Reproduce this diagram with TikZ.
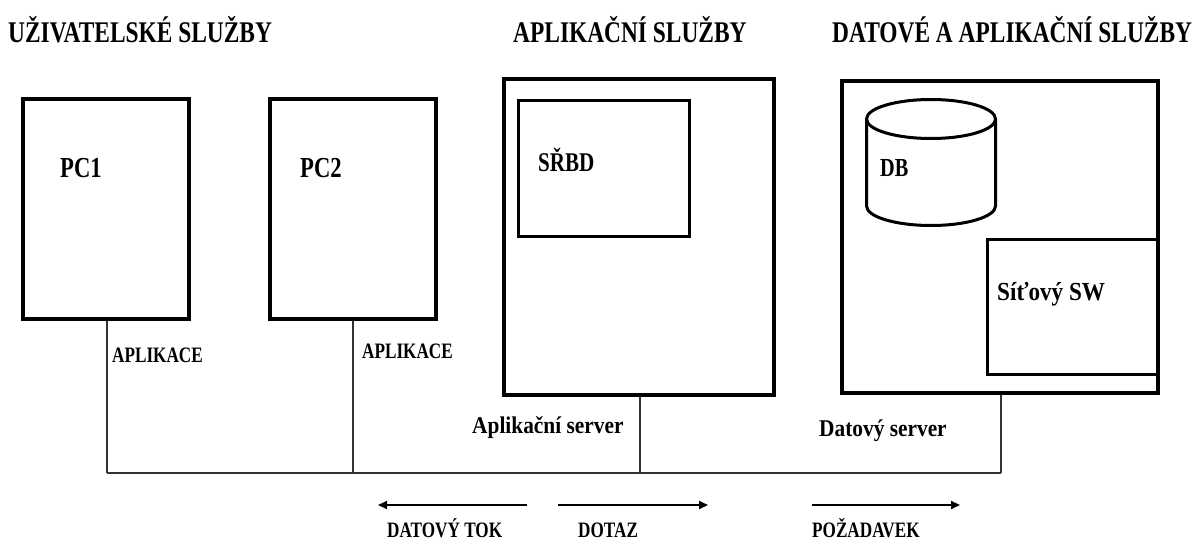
\documentclass[tikz,border=0pt]{standalone}
\usepackage{fontspec}
\setmainfont{Liberation Serif}[FakeStretch=0.78]
\newfontfamily\widefont{Liberation Serif}[FakeStretch=0.89]
\usetikzlibrary{arrows.meta}
\tikzset{
  txt/.style={anchor=base west, inner sep=0pt, font=\bfseries\fontsize{#1}{#1}\selectfont},
  wtxt/.style={anchor=base west, inner sep=0pt, font=\widefont\bfseries\fontsize{#1}{#1}\selectfont},
  bigbox/.style={draw, line width=4pt, rectangle, inner sep=0pt},
  subbox/.style={draw, line width=3pt, rectangle, inner sep=0pt},
  wire/.style={draw=black!80, line width=1.3pt},
  flow/.style={line width=2pt, -{Triangle[length=9pt,width=8pt]}}
}
\begin{document}
\begin{tikzpicture}[x=1pt,y=-1pt]
\useasboundingbox (0,0) rectangle (1199,540);
% headings
\node[txt=30] (h1) at (8,43) {UŽIVATELSKÉ SLUŽBY};
\node[txt=30] (h2) at (513,43) {APLIKAČNÍ SLUŽBY};
\node[txt=30] (h3) at (832,43) {DATOVÉ A APLIKAČNÍ SLUŽBY};
% boxes
\node[bigbox, minimum width=166pt, minimum height=220pt] (pc1) at (106,209) {};
\node[bigbox, minimum width=166pt, minimum height=220pt] (pc2) at (353,209) {};
\node[bigbox, minimum width=270pt, minimum height=316pt] (app) at (639,237) {};
\node[subbox, minimum width=171pt, minimum height=136pt] (srbd) at (604,168.5) {};
\node[bigbox, minimum width=316pt, minimum height=312pt] (data) at (1000,237) {};
\node[subbox, minimum width=170pt, minimum height=135pt] (sw) at (1072.5,307) {};
% cylinder
\draw[line width=3pt] (931,119) ellipse [x radius=64.5pt, y radius=19.5pt];
\draw[line width=3pt] (866.5,119) -- (866.5,206) arc[start angle=180, end angle=360, x radius=64.5pt, y radius=19.5pt] -- (995.5,119);
% texts in boxes
\node[txt=29] (t1) at (60,178) {PC1};
\node[txt=29] (t2) at (300,178) {PC2};
\node[txt=27] (t3) at (538,172) {SŘBD};
\node[txt=26] (t4) at (880,177) {DB};
\node[wtxt=26] (t5) at (997,300) {Síťový SW};
% labels
\node[txt=22] (a1) at (112,362) {APLIKACE};
\node[txt=22] (a2) at (362,358) {APLIKACE};
\node[wtxt=24] (s1) at (472,433) {Aplikační server};
\node[wtxt=24] (s2) at (819,436) {Datový server};
% bus
\coordinate (b1) at (107,473);
\coordinate (b2) at (353,473);
\coordinate (b3) at (640,473);
\coordinate (b4) at (1001,473);
\draw[wire] (pc1.south -| b1) -- (b1);
\draw[wire] (pc2.south -| b2) -- (b2);
\draw[wire] (app.south -| b3) -- (b3);
\draw[wire] (data.south -| b4) -- (b4);
\draw[wire] (b1) -- (b4);
% flow arrows
\coordinate (f1s) at (527,505); \coordinate (f1e) at (378,505);
\coordinate (f2s) at (558,505); \coordinate (f2e) at (708,505);
\coordinate (f3s) at (812,505); \coordinate (f3e) at (960,505);
\draw[flow] (f1s) -- (f1e);
\draw[flow] (f2s) -- (f2e);
\draw[flow] (f3s) -- (f3e);
\node[txt=22] (l1) at (387,537) {DATOVÝ TOK};
\node[txt=22] (l2) at (578,537) {DOTAZ};
\node[txt=22] (l3) at (812,537) {POŽADAVEK};
\end{tikzpicture}
\end{document}
